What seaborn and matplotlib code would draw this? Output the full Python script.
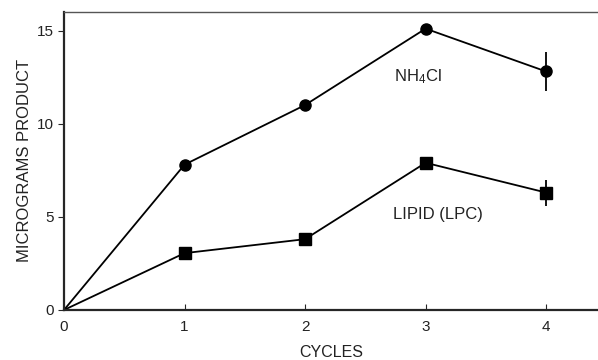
import matplotlib
matplotlib.use("Agg")
import matplotlib.pyplot as plt
import seaborn as sns
import pandas as pd

cycles = [0, 1, 2, 3, 4]
nh4cl = [0, 7.8, 11.0, 15.1, 12.8]
nh4cl_err = [0, 0, 0, 0, 1.05]
lipid = [0, 3.05, 3.8, 7.9, 6.3]
lipid_err = [0, 0, 0, 0, 0.7]

sns.set_style("ticks")
plt.rcParams['font.family'] = ['Liberation Sans', 'DejaVu Sans']
plt.rcParams['mathtext.default'] = 'regular'

fig = plt.figure(figsize=(5.98, 3.6), dpi=100)
ax = fig.add_axes([0.107, 0.139, 0.893, 0.828])

df1 = pd.DataFrame({"cycles": cycles, "val": nh4cl})
df2 = pd.DataFrame({"cycles": cycles, "val": lipid})

sns.lineplot(data=df1, x="cycles", y="val", ax=ax, color="black", lw=1.3)
sns.lineplot(data=df2, x="cycles", y="val", ax=ax, color="black", lw=1.3)

ax.errorbar(cycles[1:], nh4cl[1:], yerr=nh4cl_err[1:], fmt="o", color="black",
            ms=8, elinewidth=1.3, capsize=0)
ax.errorbar(cycles[1:], lipid[1:], yerr=lipid_err[1:], fmt="s", color="black",
            ms=8, elinewidth=1.3, capsize=0)

ax.text(2.74, 12.55, "NH$_4$Cl", fontsize=12, va="center", ha="left", color="#222222")
ax.text(2.73, 5.15, "LIPID (LPC)", fontsize=12, va="center", ha="left", color="#222222")

ax.set_xlim(0, 4.43)
ax.set_ylim(0, 16)
ax.set_xticks([0, 1, 2, 3, 4])
ax.set_yticks([0, 5, 10, 15])
ax.set_xlabel("CYCLES", fontsize=11.5, labelpad=8, color="#222222")
ax.set_ylabel("MICROGRAMS PRODUCT", fontsize=12, labelpad=3, color="#222222")
ax.tick_params(axis="x", direction="in", length=4, labelsize=11, pad=7, labelcolor="#222222")
ax.tick_params(axis="y", direction="out", length=4, labelsize=11, labelcolor="#222222")

for s in ["left", "bottom"]:
    ax.spines[s].set_linewidth(1.6)
ax.spines["top"].set_linewidth(1.0)
ax.spines["top"].set_color("#555555")
ax.spines["right"].set_visible(False)

fig.savefig("out.png", dpi=100)
